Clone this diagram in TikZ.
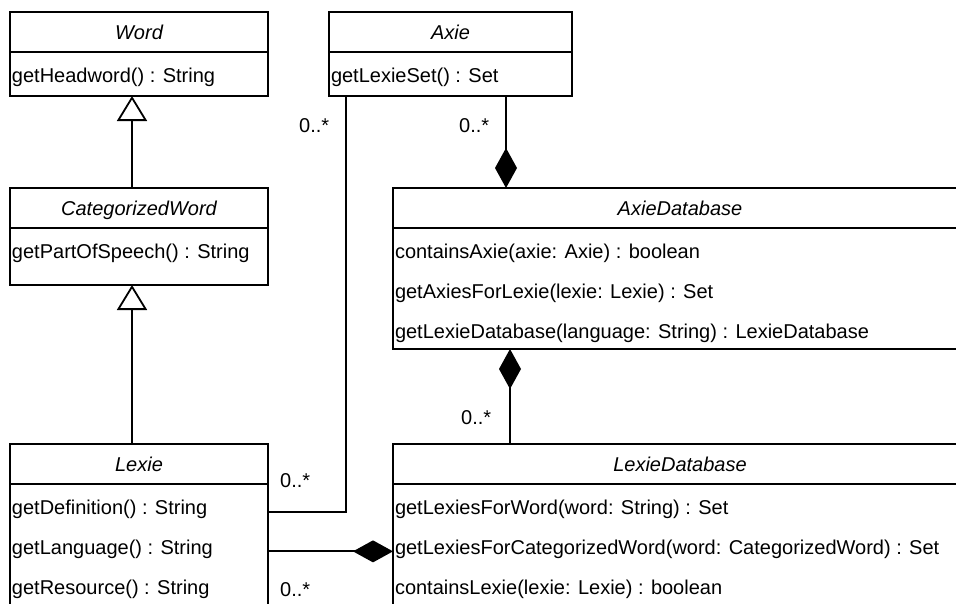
\documentclass[tikz,border=0pt]{standalone}
\usepackage{fontspec}
\setmainfont{Liberation Sans}
\usetikzlibrary{arrows.meta,calc}

\tikzset{
  umlfont/.style={font=\fontsize{20pt}{24pt}\selectfont},
  clshead/.style={draw, line width=1.8pt, anchor=north west, inner sep=0pt, outer sep=0pt,
    minimum height=40pt, text height=27pt, text depth=13pt,
    font=\fontsize{20pt}{24pt}\selectfont\itshape},
  clsbody/.style={draw, line width=1.8pt, anchor=north west, inner sep=0pt, outer sep=0pt},
  op/.style={anchor=base west, inner sep=0pt, outer sep=0pt, umlfont},
  mult/.style={anchor=base west, inner sep=0pt, umlfont},
  link/.style={line width=1.8pt},
  gen/.style={link, -{Triangle[open, fill=white, length=25pt, width=30pt, line width=1.8pt]}},
  comp/.style={link, -{Diamond[length=40pt, width=22pt]}},
}

\begin{document}
\begin{tikzpicture}[x=1pt, y=-1pt]
  \useasboundingbox (0,0) rectangle (956,603);
  \clip (0,0) rectangle (956,603);

  % ---- Word ----
  \node[clshead, minimum width=258pt] (word) at (10,12) {Word};
  \node[clsbody, minimum width=258pt, minimum height=44pt] (wordops) at (word.south west) {};
  \node[op] (word-m1) at ([shift={(2,30)}]wordops.north west) {getHeadword() : String};

  % ---- CategorizedWord ----
  \node[clshead, minimum width=258pt] (cw) at (10,188) {CategorizedWord};
  \node[clsbody, minimum width=258pt, minimum height=57pt] (cwops) at (cw.south west) {};
  \node[op] (cw-m1) at ([shift={(2,30)}]cwops.north west) {getPartOfSpeech() : String};

  % ---- Lexie ----
  \node[clshead, minimum width=258pt] (lexie) at (10,444) {Lexie};
  \node[clsbody, minimum width=258pt, minimum height=200pt] (lexieops) at (lexie.south west) {};
  \node[op] (lexie-m1) at ([shift={(2,30)}]lexieops.north west) {getDefinition() : String};
  \node[op] (lexie-m2) at ([shift={(2,70)}]lexieops.north west) {getLanguage() : String};
  \node[op] (lexie-m3) at ([shift={(2,110)}]lexieops.north west) {getResource() : String};

  % ---- Axie ----
  \node[clshead, minimum width=243pt] (axie) at (329,12) {Axie};
  \node[clsbody, minimum width=243pt, minimum height=44pt] (axieops) at (axie.south west) {};
  \node[op] (axie-m1) at ([shift={(2,30)}]axieops.north west) {getLexieSet() : Set};

  % ---- AxieDatabase ----
  \node[clshead, minimum width=574pt] (axiedb) at (393,188) {AxieDatabase};
  \node[clsbody, minimum width=574pt, minimum height=121pt] (axiedbops) at (axiedb.south west) {};
  \node[op] (axiedb-m1) at ([shift={(2,30)}]axiedbops.north west) {containsAxie(axie: Axie) : boolean};
  \node[op] (axiedb-m2) at ([shift={(2,70)}]axiedbops.north west) {getAxiesForLexie(lexie: Lexie) : Set};
  \node[op] (axiedb-m3) at ([shift={(2,110)}]axiedbops.north west) {getLexieDatabase(language: String) : LexieDatabase};

  % ---- LexieDatabase ----
  \node[clshead, minimum width=574pt] (lexiedb) at (393,444) {LexieDatabase};
  \node[clsbody, minimum width=574pt, minimum height=200pt] (lexiedbops) at (lexiedb.south west) {};
  \node[op] (lexiedb-m1) at ([shift={(2,30)}]lexiedbops.north west) {getLexiesForWord(word: String) : Set};
  \node[op] (lexiedb-m2) at ([shift={(2,70)}]lexiedbops.north west) {getLexiesForCategorizedWord(word: CategorizedWord) : Set};
  \node[op] (lexiedb-m3) at ([shift={(2,110)}]lexiedbops.north west) {containsLexie(lexie: Lexie) : boolean};

  % ---- generalizations ----
  \draw[gen] ([xshift=122pt]cw.north west) -- ([xshift=122pt]wordops.south west);
  \draw[gen] ([xshift=122pt]lexie.north west) -- ([xshift=122pt]cwops.south west);

  % ---- associations ----
  \draw[link] ([xshift=17pt]axieops.south west) |- ([yshift=-1pt]lexie-m1.mid -| lexieops.east);
  \draw[comp] ([xshift=177pt]axieops.south west) -- ([xshift=113pt]axiedb.north west);
  \draw[comp] ([xshift=117pt]lexiedb.north west) -- ([xshift=117pt]axiedbops.south west);
  \draw[comp] (lexie-m2.mid -| lexieops.east) -- (lexie-m2.mid -| lexiedbops.west);

  % ---- multiplicities ----
  \node[mult] (mult-a) at (299,132) {0..*};
  \node[mult] (mult-b) at (459,132) {0..*};
  \node[mult] (mult-c) at (461,424) {0..*};
  \node[mult] (mult-d) at (280,487) {0..*};
  \node[mult] (mult-e) at (280,596) {0..*};
\end{tikzpicture}
\end{document}
